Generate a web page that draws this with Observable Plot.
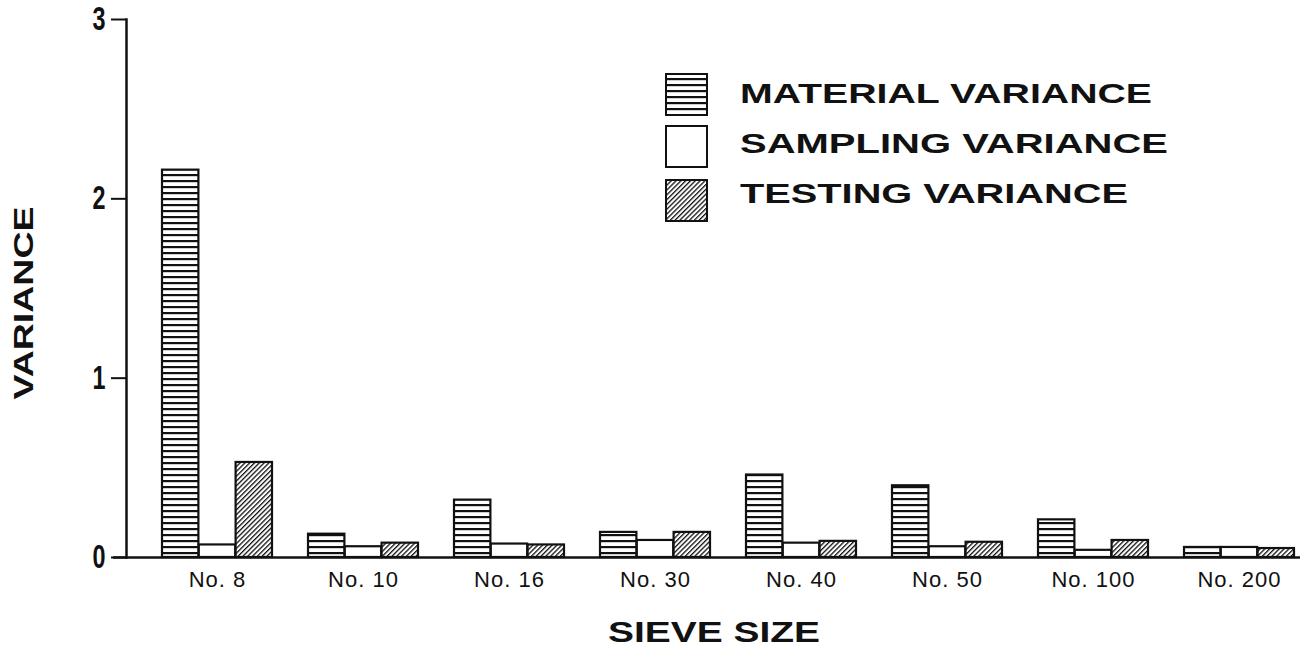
<!DOCTYPE html>
<html><head><meta charset="utf-8">
<script src="https://cdn.jsdelivr.net/npm/d3@7"></script>
<script src="https://cdn.jsdelivr.net/npm/@observablehq/plot@0.6"></script>
<style>
html,body{margin:0;padding:0;background:#fff;}
#chart{position:relative;width:1308px;height:656px;}
g[aria-label="y-axis tick label"] text{font-family:"Liberation Sans",Arial,sans-serif;font-weight:bold;font-size:33px;}
g[aria-label="x-axis tick label"] text{font-family:"Liberation Sans",Arial,sans-serif;font-size:22px;letter-spacing:1px;}
</style></head><body><div id="chart"></div>
<script>
const sieves = ["No. 8","No. 10","No. 16","No. 30","No. 40","No. 50","No. 100","No. 200"];
const material = [2.16,0.13,0.32,0.14,0.46,0.40,0.21,0.056];
const sampling = [0.07,0.06,0.075,0.095,0.08,0.06,0.04,0.056];
const testing  = [0.53,0.08,0.07,0.14,0.09,0.085,0.095,0.05];
const seriesNames = ["MATERIAL VARIANCE","SAMPLING VARIANCE","TESTING VARIANCE"];
const yTicks = [0,1,2,3];
const yTitle = "VARIANCE";
const xTitle = "SIEVE SIZE";

const seriesValues = [material, sampling, testing];
const fills = ["url(#hstripe)", "white", "url(#diag)"];
const rows = sieves.flatMap((s, i) => seriesNames.map((n, k) => ({sieve: s, series: n, value: seriesValues[k][i]})));

const xRange = [161, 1295], padIn = 0.245;
const step = (xRange[1] - xRange[0]) / (sieves.length - padIn);
const bw = step * (1 - padIn);
const sub = bw / 3;

const barMarks = seriesNames.map((n, k) => Plot.barY(rows.filter(d => d.series === n), {
  x: "sieve", y: "value", fill: fills[k], stroke: "#111", strokeWidth: 2.2,
  insetLeft: k * sub, insetRight: (2 - k) * sub
}));

const svgEl = Plot.plot({
  width: 1308, height: 656,
  marginLeft: 126, marginRight: 8, marginTop: 19, marginBottom: 99,
  style: {background: "white", fontFamily: "'Liberation Sans', Arial, sans-serif", color: "#111"},
  x: {domain: sieves, range: xRange, paddingInner: padIn, paddingOuter: 0},
  y: {domain: [0, 3]},
  marks: [
    ...barMarks,
    Plot.ruleY([0], {stroke: "#111", strokeWidth: 2.5, insetLeft: -13}),
    Plot.frame({anchor: "left", stroke: "#111", strokeWidth: 2.5}),
    Plot.axisY({ticks: yTicks, tickSize: 15, tickPadding: 6, label: null, tickFormat: d => String(d), strokeWidth: 2}),
    Plot.axisX({tickSize: 0, tickPadding: 14, label: null})
  ]
});

const svg = d3.select(svgEl);
const defs = svg.insert("defs", ":first-child");
const p1 = defs.append("pattern").attr("id", "hstripe").attr("patternUnits", "userSpaceOnUse").attr("width", 10).attr("height", 6);
p1.append("rect").attr("width", 10).attr("height", 6).attr("fill", "white");
p1.append("rect").attr("width", 10).attr("height", 2.2).attr("fill", "#111");
const p2 = defs.append("pattern").attr("id", "diag").attr("patternUnits", "userSpaceOnUse").attr("width", 3.4).attr("height", 10).attr("patternTransform", "rotate(45)");
p2.append("rect").attr("width", 3.4).attr("height", 10).attr("fill", "white");
p2.append("rect").attr("width", 1.3).attr("height", 10).attr("fill", "#111");

// narrow (condensed) y tick labels, as in the original lettering
svg.selectAll('g[aria-label="y-axis tick label"] text')
  .attr("textLength", 13).attr("lengthAdjust", "spacingAndGlyphs");

// legend
const lg = svg.append("g").attr("text-anchor", "start");
const swTop = [74, 126, 180], txtBase = [103, 153, 203], txtLen = [412, 428, 388];
seriesNames.forEach((n, k) => {
  lg.append("rect").attr("x", 666).attr("y", swTop[k]).attr("width", 41).attr("height", 41)
    .attr("fill", fills[k]).attr("stroke", "#111").attr("stroke-width", 2);
  lg.append("text").attr("x", 740).attr("y", txtBase[k]).text(n).attr("text-anchor", "start")
    .attr("font-family", "'Liberation Sans', Arial, sans-serif").attr("font-weight", "bold").attr("font-size", 28)
    .attr("textLength", txtLen[k]).attr("lengthAdjust", "spacingAndGlyphs").attr("fill", "#111");
});
// titles
svg.append("text").attr("transform", "translate(33,303) rotate(-90)").attr("text-anchor", "middle").text(yTitle)
  .attr("font-family", "'Liberation Sans', Arial, sans-serif").attr("font-weight", "bold").attr("font-size", 28)
  .attr("textLength", 193).attr("lengthAdjust", "spacingAndGlyphs").attr("fill", "#111");
svg.append("text").attr("x", 608).attr("y", 642).attr("text-anchor", "start").text(xTitle)
  .attr("font-family", "'Liberation Sans', Arial, sans-serif").attr("font-weight", "bold").attr("font-size", 30)
  .attr("textLength", 212).attr("lengthAdjust", "spacingAndGlyphs").attr("fill", "#111");

document.getElementById("chart").appendChild(svgEl);
</script></body></html>
